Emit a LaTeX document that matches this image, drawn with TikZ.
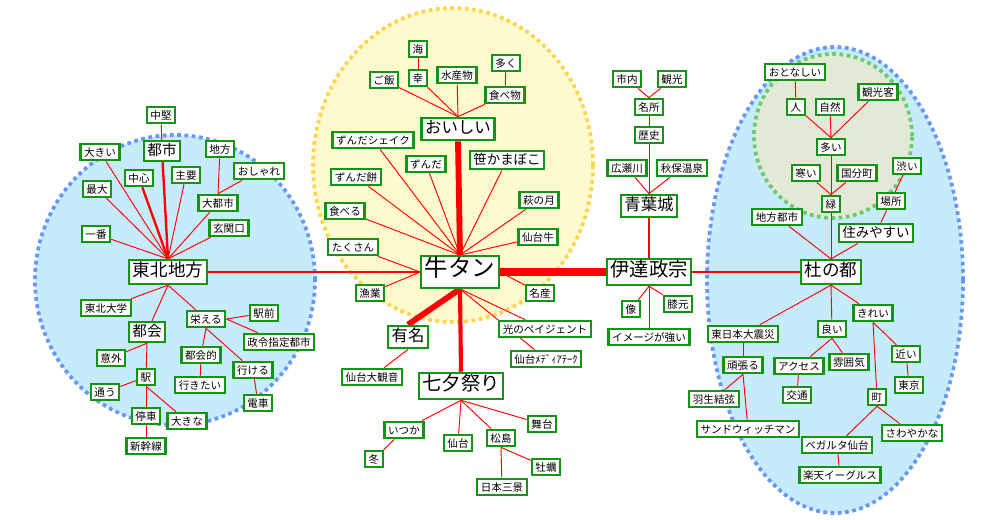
\documentclass[tikz,border=0pt]{standalone}
\usepackage{fontspec}
\setmainfont{Noto Sans CJK JP}
\usetikzlibrary{backgrounds}
\definecolor{frame}{HTML}{139413}
\definecolor{wire}{HTML}{FF0000}
\definecolor{tohokufill}{HTML}{C6ECFB}
\definecolor{tohokudot}{HTML}{6A98F0}
\definecolor{gyufill}{HTML}{FFFACD}
\definecolor{gyudot}{HTML}{FFD54A}
\definecolor{midorifill}{HTML}{E2E9D6}
\definecolor{midoridot}{HTML}{6CCB6C}

\begin{document}
\begin{tikzpicture}[
  x=0.03cm, y=-0.03cm,
  every node/.style={font=\fontsize{9}{9}\selectfont},
  word/.style={
    draw=frame, fill=white, line width=1.9pt,
    inner xsep=3.1pt, inner ysep=2pt,
    text height=0.86em, text depth=0.14em,
  },
  hub/.style={word, font=\fontsize{#1}{#1}\selectfont, minimum height={1.3*#1pt+1pt}},
  link/.style={draw=wire, line width=0.8pt},
  bond/.style={draw=wire, line width=#1},
  area/.style={line width=3.2pt, dash pattern=on 3.2pt off 3pt},
]
  \useasboundingbox (0,0) rectangle (1000,519);

  % Tohoku cluster
  \node[word]    (chuken)     at (161,115) {中堅};
  \node[hub=12.5] (toshi)     at (162,151) {都市};
  \node[word]    (ookii)      at (100,152) {大きい};
  \node[word]    (chihou)     at (220,149) {地方};
  \node[word]    (oshare)     at (259,171) {おしゃれ};
  \node[word]    (chushin)    at (139,178) {中心};
  \node[word]    (shuyou)     at (186,175) {主要};
  \node[word]    (saidai)     at (97,189)  {最大};
  \node[word]    (daitoshi)   at (218,203) {大都市};
  \node[word]    (genkan)     at (229,228) {玄関口};
  \node[word]    (ichiban)    at (96,234)  {一番};
  \node[hub=15]  (tohoku)     at (168,272) {東北地方};
  \node[word]    (tohokudai)  at (106,308) {東北大学};
  \node[hub=12.5] (tokai)     at (147,332) {都会};
  \node[word]    (sakaeru)    at (206,319) {栄える};
  \node[word]    (ekimae)     at (264,313) {駅前};
  \node[word]    (seirei)     at (279,342) {政令指定都市};
  \node[word]    (igai)       at (111,358) {意外};
  \node[word]    (tokaiteki)  at (201,355) {都会的};
  \node[word]    (ikeru)      at (253,370) {行ける};
  \node[word]    (eki)        at (146,377) {駅};
  \node[word]    (ikitai)     at (200,385) {行きたい};
  \node[word]    (kayou)      at (105,392) {通う};
  \node[word]    (densha)     at (258,403) {電車};
  \node[word]    (teisha)     at (146,416) {停車};
  \node[word]    (ookina)     at (187,421) {大きな};
  \node[word]    (shinkansen) at (146,446) {新幹線};

  % Gyutan cluster
  \node[word]    (umi)        at (418,49)  {海};
  \node[word]    (sachi)      at (418,78)  {幸};
  \node[word]    (gohan)      at (384,80)  {ご飯};
  \node[word]    (suisan)     at (457,75)  {水産物};
  \node[word]    (ooku)       at (506,63)  {多く};
  \node[word]    (tabemono)   at (505,95)  {食べ物};
  \node[hub=14]  (oishii)     at (458,129) {おいしい};
  \node[word]    (shake)      at (373,140) {ずんだシェイク};
  \node[word]    (zunda)      at (426,164) {ずんだ};
  \node[hub=11.5] (sasakama)  at (507,160) {笹かまぼこ};
  \node[word]    (zundamochi) at (356,177) {ずんだ餅};
  \node[word]    (hagi)       at (539,200) {萩の月};
  \node[word]    (taberu)     at (345,211) {食べる};
  \node[word]    (sendaigyu)  at (538,237) {仙台牛};
  \node[word]    (takusan)    at (353,247) {たくさん};
  \node[hub=20]  (gyutan)     at (460,272) {牛タン};
  \node[word]    (gyogyo)     at (370,293) {漁業};
  \node[word]    (meisan)     at (540,293) {名産};
  \node[hub=14]  (yumei)      at (408,337) {有名};
  \node[word]    (pageant)    at (545,329) {光のペイジェント};
  \node[word]    (smt)        at (546,359) {仙台ﾒﾃﾞｨｱﾃｰｸ};
  \node[word]    (kannon)     at (372,377) {仙台大観音};
  \node[hub=16.5] (tanabata)  at (461,386) {七夕祭り};
  \node[word]    (itsuka)     at (404,430) {いつか};
  \node[word]    (butai)      at (542,424) {舞台};
  \node[word]    (sendai)     at (458,443) {仙台};
  \node[word]    (matsushima) at (501,438) {松島};
  \node[word]    (fuyu)       at (374,459) {冬};
  \node[word]    (kaki)       at (546,467) {牡蠣};
  \node[word]    (sankei)     at (502,487) {日本三景};

  % Date Masamune
  \node[word]    (shinai)     at (627,79)  {市内};
  \node[word]    (kankou)     at (672,79)  {観光};
  \node[word]    (meisho)     at (649,107) {名所};
  \node[word]    (rekishi)    at (649,135) {歴史};
  \node[word]    (hirose)     at (627,168) {広瀬川};
  \node[word]    (akiu)       at (682,168) {秋保温泉};
  \node[hub=14]  (aoba)       at (649,206) {青葉城};
  \node[hub=16.5] (date)      at (649,272) {伊達政宗};
  \node[word]    (zou)        at (631,309) {像};
  \node[word]    (hizamoto)   at (678,304) {膝元};
  \node[word]    (image)      at (649,337) {イメージが強い};

  % Mori no Miyako cluster
  \node[word]    (otonashii)  at (795,72)  {おとなしい};
  \node[word]    (hito)       at (796,107) {人};
  \node[word]    (shizen)     at (830,107) {自然};
  \node[word]    (kyaku)      at (878,92)  {観光客};
  \node[word]    (ooi)        at (831,147) {多い};
  \node[word]    (samui)      at (806,173) {寒い};
  \node[word]    (kokubun)    at (857,173) {国分町};
  \node[word]    (shibui)     at (907,166) {渋い};
  \node[word]    (midori)     at (831,204) {緑};
  \node[word]    (basho)      at (891,201) {場所};
  \node[word]    (chihoutoshi) at (777,217) {地方都市};
  \node[hub=11.5] (sumiyasui) at (876,233) {住みやすい};
  \node[hub=15]  (mori)       at (831,272) {杜の都};
  \node[word]    (kirei)      at (873,313) {きれい};
  \node[word]    (shinsai)    at (743,334) {東日本大震災};
  \node[word]    (yoi)        at (832,329) {良い};
  \node[word]    (chikai)     at (906,354) {近い};
  \node[word]    (ganbaru)    at (743,365) {頑張る};
  \node[word]    (access)     at (799,366) {アクセス};
  \node[word]    (funiki)     at (849,362) {雰囲気};
  \node[word]    (tokyo)      at (909,385) {東京};
  \node[word]    (hanyu)      at (714,399) {羽生結弦};
  \node[word]    (koutsu)     at (797,395) {交通};
  \node[word]    (machi)      at (877,397) {町};
  \node[word]    (sandwich)   at (748,429) {サンドウィッチマン};
  \node[word]    (sawayaka)   at (912,433) {さわやかな};
  \node[word]    (vegalta)    at (837,445) {ベガルタ仙台};
  \node[word]    (rakuten)    at (840,475) {楽天イーグルス};

  \begin{scope}[on background layer]
    % dotted areas
    \draw[area, draw=tohokudot, fill=tohokufill] (175,280) ellipse [x radius=4.2cm, y radius=4.35cm];
    \draw[area, draw=gyudot, fill=gyufill] (453,165) ellipse [x radius=4.2cm, y radius=4.71cm];
    \draw[area, draw=tohokudot, fill=tohokufill] (835,280) ellipse [x radius=3.84cm, y radius=6.99cm];
    \draw[area, draw=midoridot, fill=midorifill] (833,136) ellipse [x radius=2.37cm, y radius=2.46cm];

    % Tohoku links
    \draw[link] (chuken) -- (toshi);
    \draw[bond=2pt] (toshi) -- (tohoku.north);
    \draw[bond=2pt] (chushin) -- (tohoku.north);
    \foreach \w in {ookii,saidai,ichiban,shuyou,daitoshi,genkan}
      \draw[link] (\w) -- (tohoku.north);
    \draw[link] (chihou) -- (daitoshi.north);
    \draw[link] (oshare) -- (daitoshi.north);
    \foreach \w in {tohokudai,tokai,sakaeru}
      \draw[link] (tohoku.south) -- (\w);
    \draw[link] (tokai.south) -- (igai);
    \draw[link] (tokai.south) -- (eki);
    \draw[link] (eki) -- (kayou);
    \draw[link] (eki.south) -- (teisha);
    \draw[link] (eki.south) -- (ookina);
    \draw[link] (teisha) -- (shinkansen);
    \draw[link] (sakaeru.east) -- (ekimae);
    \draw[link] (sakaeru.east) -- (seirei);
    \draw[link] (sakaeru.south) -- (tokaiteki);
    \draw[link] (sakaeru.south) -- (ikeru);
    \draw[link] (tokaiteki) -- (ikitai);
    \draw[link] (ikeru) -- (densha);
    \draw[bond=2.5pt] (tohoku.east) -- (gyutan.west);

    % Gyutan links
    \draw[link] (umi) -- (sachi);
    \draw[link] (ooku) -- (tabemono);
    \foreach \w in {gohan,sachi,suisan,tabemono}
      \draw[link] (\w) -- (oishii.north);
    \draw[bond=5pt] (oishii.south) -- (gyutan.north);
    \foreach \w in {shake,zunda,sasakama,zundamochi,hagi,taberu,sendaigyu}
      \draw[link] (\w) -- (gyutan.north);
    \draw[link] (takusan) -- (gyutan.west);
    \draw[link] (gyogyo) -- (gyutan.west);
    \draw[link] (meisan) -- (gyutan.east);
    \draw[bond=5pt] (gyutan.south) -- (yumei.north);
    \draw[bond=3.5pt] (gyutan.south) -- (tanabata.north);
    \draw[link] (gyutan.south) -- (pageant);
    \draw[link] (gyutan.south) -- (smt);
    \draw[link] (yumei.south) -- (kannon);
    \foreach \w in {itsuka,sendai,matsushima,butai}
      \draw[link] (tanabata.south) -- (\w);
    \draw[link] (itsuka) -- (fuyu);
    \draw[link] (matsushima.south) -- (kaki);
    \draw[link] (matsushima.south) -- (sankei);
    \draw[bond=6pt] (gyutan.east) -- (date.west);

    % Date links
    \draw[link] (shinai) -- (meisho.north);
    \draw[link] (kankou) -- (meisho.north);
    \draw[link] (meisho) -- (rekishi);
    \draw[link] (rekishi) -- (aoba.north);
    \draw[link] (hirose) -- (aoba.north);
    \draw[link] (akiu) -- (aoba.north);
    \draw[bond=2.5pt] (aoba) -- (date);
    \foreach \w in {zou,hizamoto,image}
      \draw[link] (date.south) -- (\w);
    \draw[bond=2.5pt] (date.east) -- (mori.west);

    % Mori links
    \draw[link] (otonashii) -- (hito);
    \foreach \w in {hito,shizen,kyaku}
      \draw[link] (\w) -- (ooi.north);
    \draw[link] (ooi) -- (midori);
    \draw[link] (samui) -- (midori.north);
    \draw[link] (kokubun) -- (midori.north);
    \draw[link] (shibui) -- (basho);
    \draw[link] (basho) -- (sumiyasui);
    \foreach \w in {midori,chihoutoshi,sumiyasui}
      \draw[link] (\w) -- (mori.north);
    \foreach \w in {shinsai,yoi,kirei}
      \draw[link] (mori.south) -- (\w);
    \draw[link] (shinsai) -- (ganbaru);
    \draw[link] (ganbaru.south) -- (hanyu);
    \draw[link] (ganbaru.south) -- (sandwich);
    \draw[link] (yoi.south) -- (access);
    \draw[link] (yoi.south) -- (funiki);
    \draw[link] (access) -- (koutsu);
    \draw[link] (kirei.south) -- (machi);
    \draw[link] (kirei.south) -- (chikai);
    \draw[link] (chikai) -- (tokyo);
    \draw[link] (machi.south) -- (vegalta);
    \draw[link] (machi.south) -- (sawayaka);
    \draw[link] (vegalta) -- (rakuten);
  \end{scope}
\end{tikzpicture}
\end{document}
